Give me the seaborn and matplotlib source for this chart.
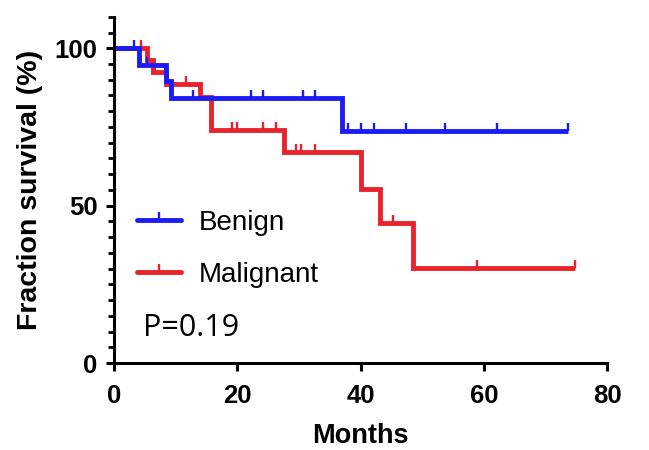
import numpy as np
import pandas as pd
import matplotlib
matplotlib.use("Agg")
import matplotlib.pyplot as plt
from matplotlib.lines import Line2D
from matplotlib.ticker import MultipleLocator
import seaborn as sns

# ---- data ----
benign_times = [0, 4.0, 8.5, 9.2, 36.9]
benign_surv = [100, 94.7, 89.5, 84.2, 73.7]
benign_end = 73.6
benign_censor = [3.2, 5.3, 12.8, 22.2, 24.2, 30.6, 32.6, 38.0, 40.0, 42.1, 47.4, 53.6, 62.1, 73.6]

malig_times = [0, 5.4, 6.3, 8.5, 13.9, 15.8, 27.5, 40.1, 43.1, 48.5]
malig_surv = [100, 96.3, 92.6, 88.6, 84.4, 74.1, 67.0, 55.3, 44.6, 30.2]
malig_end = 74.8
malig_censor = [4.4, 11.7, 19.1, 20.0, 24.2, 26.3, 29.5, 30.4, 32.6, 45.3, 58.8, 74.8]

groups = ["Benign", "Malignant"]
colors = {"Benign": "#1c1cf5", "Malignant": "#e8232b"}
x_ticks = [0, 20, 40, 60, 80]
y_ticks = [0, 50, 100]
p_text = "P=0.19"

sns.set_style("ticks")
plt.rcParams["font.family"] = ["Liberation Sans", "DejaVu Sans"]
plt.rcParams["text.color"] = "black"
plt.rcParams["axes.labelcolor"] = "black"
plt.rcParams["xtick.color"] = "black"
plt.rcParams["ytick.color"] = "black"

fig = plt.figure(figsize=(6.49, 4.5), dpi=100)
ax = fig.add_axes([0.1757, 0.1933, 0.76, 0.7694])

def step_df(times, surv, end):
    t = list(times) + [end]
    s = list(surv) + [surv[-1]]
    return pd.DataFrame({"Months": t, "Survival": s})

def surv_at(times, surv, c):
    idx = np.searchsorted(np.asarray(times), np.asarray(c), side="right") - 1
    return np.asarray(surv)[idx]

lw = 3.5
# malignant first so benign is drawn on top
for name, times, surv, end, cens in [
    ("Malignant", malig_times, malig_surv, malig_end, malig_censor),
    ("Benign", benign_times, benign_surv, benign_end, benign_censor),
]:
    df = step_df(times, surv, end)
    sns.lineplot(data=df, x="Months", y="Survival", ax=ax, estimator=None,
                 sort=False, drawstyle="steps-post", color=colors[name],
                 linewidth=lw, solid_joinstyle="miter", solid_capstyle="butt")
    ax.plot(cens, surv_at(times, surv, cens), linestyle="none", marker=2,
            markersize=6, markeredgewidth=1.7, color=colors[name])

ax.set_xlim(0, 80)
ax.set_ylim(0, 110)
ax.set_xticks(x_ticks)
ax.set_yticks(y_ticks)
ax.yaxis.set_minor_locator(MultipleLocator(5))
for s in ["top", "right"]:
    ax.spines[s].set_visible(False)
for s in ["left", "bottom"]:
    ax.spines[s].set_linewidth(2.2)
    ax.spines[s].set_color("black")
ax.tick_params(axis="both", which="major", length=6, width=2.2, color="black",
               labelcolor="black", labelsize=18.5, pad=6)
ax.tick_params(axis="x", which="major", pad=9)
ax.tick_params(axis="y", which="minor", length=4, width=2.0, color="black")
for lab in ax.get_xticklabels() + ax.get_yticklabels():
    lab.set_fontweight("bold")

ax.set_xlabel("Months", fontsize=19.5, fontweight="bold", labelpad=11, color="black")
ax.set_ylabel("Fraction survival (%)", fontsize=20.5, fontweight="bold", labelpad=8, color="black")

handles = [Line2D([], [], color=colors[g], lw=lw, marker=2, markersize=6,
                  markeredgewidth=1.7) for g in groups]
leg = ax.legend(handles, groups, loc="upper left", bbox_to_anchor=(0.025, 0.475),
                frameon=False, fontsize=20, handlelength=1.55, handletextpad=0.65,
                labelspacing=0.95, numpoints=1, borderaxespad=0)
for t in leg.get_texts():
    t.set_color("black")

ax.text(0.058, 0.10, p_text, transform=ax.transAxes, fontsize=22,
        family=["Open Sans", "DejaVu Sans"], va="center", ha="left", color="black")

fig.savefig("out.png", dpi=100)
